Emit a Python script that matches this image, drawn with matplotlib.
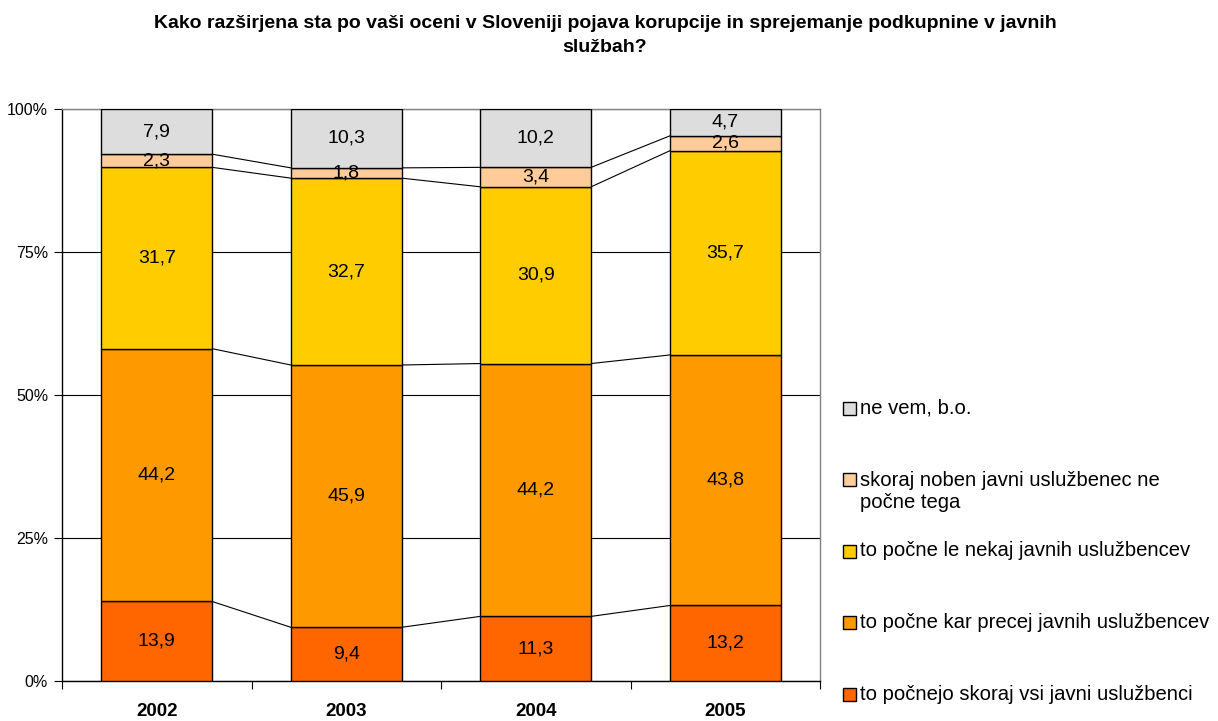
import numpy as np
import matplotlib.pyplot as plt
from matplotlib.patches import Rectangle

plt.rcParams['font.family'] = ['Liberation Sans', 'DejaVu Sans']

# leta
years = ['2002', '2003', '2004', '2005']

# serije (od spodaj navzgor)
labels = ['to počnejo skoraj vsi javni uslužbenci',
          'to počne kar precej javnih uslužbencev',
          'to počne le nekaj javnih uslužbencev',
          'skoraj noben javni uslužbenec ne\npočne tega',
          'ne vem, b.o.']
vsi = [13.9, 9.4, 11.3, 13.2]
precej = [44.2, 45.9, 44.2, 43.8]
nekaj = [31.7, 32.7, 30.9, 35.7]
noben = [2.3, 1.8, 3.4, 2.6]
nevem = [7.9, 10.3, 10.2, 4.7]
colors = ['#FF6600', '#FF9900', '#FFCC00', '#FFCC99', '#DDDDDD']

series = np.array([vsi, precej, nekaj, noben, nevem])
pct = series / series.sum(axis=0) * 100

fig = plt.figure(figsize=(12.18, 7.21), dpi=100)
ax = fig.add_axes([62/1218, 1-681/721, 758/1218, 572/721])

x = np.arange(len(years))
w = 0.585
bottom = np.zeros(len(years))
for k in range(len(series)):
    ax.bar(x, pct[k], w, bottom=bottom, color=colors[k], edgecolor='black', lw=1, zorder=3)
    for i in range(len(years)):
        ax.text(x[i], bottom[i] + pct[k][i] / 2, '{:.1f}'.format(series[k][i]).replace('.', ','),
                ha='center', va='center', fontsize=14, zorder=4)
    bottom = bottom + pct[k]
    # serijske črte
    if k < len(series) - 1:
        for i in range(len(years) - 1):
            ax.plot([x[i] + w/2, x[i+1] - w/2], [bottom[i], bottom[i+1]], color='black', lw=0.8, zorder=2)

ax.set_xlim(-0.5, 3.5)
ax.set_ylim(0, 100)
ax.set_yticks([0, 25, 50, 75, 100])
ax.set_yticklabels(['0%', '25%', '50%', '75%', '100%'], fontsize=11.5)
ax.yaxis.grid(True, color='black', lw=0.8, zorder=0)
ax.tick_params(axis='y', length=6, width=0.8, pad=4)

ax.set_xticks([-0.5, 0.5, 1.5, 2.5, 3.5])
ax.set_xticklabels([])
ax.set_xticks(x, minor=True)
ax.set_xticklabels(years, minor=True, fontsize=13.5, fontweight='bold')
ax.tick_params(axis='x', which='major', length=6, width=0.8)
ax.tick_params(axis='x', which='minor', length=0, pad=16)

ax.spines['left'].set_color('black')
ax.spines['bottom'].set_color('black')
ax.spines['top'].set_color('#808080')
ax.spines['right'].set_color('#808080')
for s in ax.spines.values():
    s.set_linewidth(1)

# legenda (od zgoraj navzdol)
leg_y = [408, 491, 551, 622, 694]
for j, k in enumerate(range(len(series) - 1, -1, -1)):
    yy = leg_y[j]
    box_y = yy - 12 if '\n' in labels[k] else yy
    fig.patches.append(Rectangle((843/1218, 1 - (box_y + 6.5)/721), 13/1218, 13/721,
                                 transform=fig.transFigure, facecolor=colors[k], edgecolor='black', lw=1))
    fig.text(860/1218, 1 - yy/721, labels[k], ha='left', va='center', fontsize=14.6, linespacing=1.2)

fig.suptitle('Kako razširjena sta po vaši oceni v Sloveniji pojava korupcije in sprejemanje podkupnine v javnih\nslužbah?',
             x=605/1218, y=1-15/721, ha='center', va='top', fontsize=14, fontweight='bold', linespacing=1.5)

plt.savefig('out.png', dpi=100)
